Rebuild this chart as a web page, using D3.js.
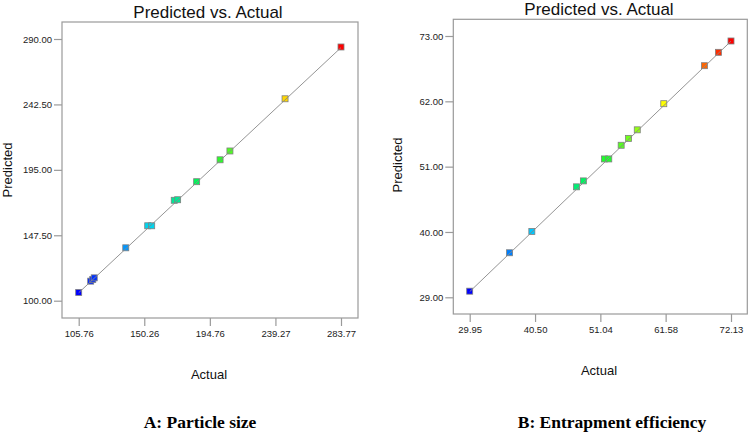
<!DOCTYPE html>
<html>
<head>
<meta charset="utf-8">
<script src="https://cdn.jsdelivr.net/npm/d3@7"></script>
<style>
html,body{margin:0;padding:0;background:#fff;}
svg{display:block;font-family:"Liberation Sans",Arial,sans-serif;}
</style>
</head>
<body>
<svg id="chart" width="750" height="435"></svg>
<script>
// ---- Data ----
const titleText = "Predicted vs. Actual";
const xLabel = "Actual";
const yLabel = "Predicted";

// Chart A: Particle size
const aActual =    [105.76, 113.9, 115.3, 116.3, 137.7, 152.6, 155.3, 170.6, 172.9, 185.8, 201.7, 208.4, 245.8, 283.77];
const aPredicted = [106.0,  114.2, 115.4, 116.6, 138.4, 154.4, 154.4, 172.9, 173.3, 186.4, 202.3, 208.7, 246.6, 284.2];
const aXTicks = [105.76, 150.26, 194.76, 239.27, 283.77];
const aYTicks = [100.00, 147.50, 195.00, 242.50, 290.00];
const aCaption = "A: Particle size";

// Chart B: Entrapment efficiency
const bActual =    [29.95, 36.39, 39.98, 47.2, 48.3, 51.7, 52.4, 54.4, 55.6, 57.0, 61.28, 67.84, 70.1, 72.13];
const bPredicted = [30.03, 36.5,  40.09, 47.6, 48.6, 52.3, 52.3, 54.6, 55.76, 57.2, 61.6, 68.0, 70.25, 72.16];
const bXTicks = [29.95, 40.50, 51.04, 61.58, 72.13];
const bYTicks = [29.00, 40.00, 51.00, 62.00, 73.00];
const bCaption = "B: Entrapment efficiency";

const gradientColors = ["#0000ff", "#00d0ff", "#00ff30", "#ffff00", "#ff0000"];

// ---- Drawing ----
const svg = d3.select("#chart");

function drawPanel(cfg) {
  const g = svg.append("g");
  const x = d3.scaleLinear().domain([cfg.xTicks[0], cfg.xTicks[cfg.xTicks.length-1]]).range([cfg.x0, cfg.x1]);
  const y = d3.scaleLinear().domain([cfg.yTicks[0], cfg.yTicks[cfg.yTicks.length-1]]).range([cfg.y0, cfg.y1]);
  const pMin = d3.min(cfg.pred), pMax = d3.max(cfg.pred);
  const color = d3.scaleLinear()
    .domain(gradientColors.map((c,i)=> pMin + (pMax-pMin)*i/(gradientColors.length-1)))
    .range(gradientColors)
    .interpolate(d3.interpolateRgb);

  // frame
  g.append("rect")
    .attr("x", cfg.fx0).attr("y", cfg.fy0)
    .attr("width", cfg.fx1 - cfg.fx0).attr("height", cfg.fy1 - cfg.fy0)
    .attr("fill", "none").attr("stroke", "#9a9a9a").attr("stroke-width", 1.2);

  // y axis
  const yAxis = d3.axisLeft(y).tickValues(cfg.yTicks).tickFormat(d3.format(".2f")).tickSize(8).tickPadding(2);
  const ya = g.append("g").attr("transform", `translate(${cfg.fx0},0)`).call(yAxis);
  // x axis
  const xAxis = d3.axisBottom(x).tickValues(cfg.xTicks).tickFormat(d3.format(".2f")).tickSize(8).tickPadding(4);
  const xa = g.append("g").attr("transform", `translate(0,${cfg.fy1})`).call(xAxis);
  [ya, xa].forEach(a => {
    a.select(".domain").remove();
    a.selectAll(".tick line").attr("stroke", "#9a9a9a").attr("stroke-width", 1.2);
    a.selectAll(".tick text").attr("fill", "#222").style("font-size", "9.5px")
      .style("font-family", '"Liberation Sans",Arial,sans-serif');
  });

  // points
  const pts = cfg.act.map((a,i)=>({a, p: cfg.pred[i]}));
  const s = 6;
  g.append("g").selectAll("rect").data(pts).join("rect")
    .attr("x", d => x(d.a) - s/2).attr("y", d => y(d.p) - s/2)
    .attr("width", s).attr("height", s)
    .attr("fill", d => color(d.p))
    .attr("stroke", "#808080").attr("stroke-width", 0.8);

  // diagonal line
  const lo = cfg.act[0], hi = cfg.act[cfg.act.length-1];
  g.append("line")
    .attr("x1", x(lo)).attr("y1", y(lo)).attr("x2", x(hi)).attr("y2", y(hi))
    .attr("stroke", "#888").attr("stroke-width", 0.9);

  // title
  g.append("text").attr("x", cfg.titleX).attr("y", cfg.titleY)
    .attr("text-anchor", "middle").attr("font-size", "17px").attr("fill", "#111").text(titleText);
  // axis labels
  g.append("text").attr("x", cfg.xlabX).attr("y", cfg.xlabY)
    .attr("text-anchor", "middle").attr("font-size", "13px").attr("fill", "#111").text(xLabel);
  g.append("text").attr("transform", `translate(${cfg.ylabX},${cfg.ylabY}) rotate(-90)`)
    .attr("text-anchor", "middle").attr("font-size", "13px").attr("fill", "#111").text(yLabel);
  // caption
  g.append("text").attr("x", cfg.capX).attr("y", cfg.capY)
    .attr("text-anchor", "middle").attr("font-size", "17.5px").attr("font-weight", "bold")
    .style("font-family", '"Liberation Serif","Times New Roman",serif').attr("fill", "#000").text(cfg.caption);
}

drawPanel({
  act: aActual, pred: aPredicted, xTicks: aXTicks, yTicks: aYTicks, caption: aCaption,
  x0: 78.7, x1: 341, y0: 300.7, y1: 39,
  fx0: 62, fx1: 358, fy0: 22, fy1: 318,
  titleX: 208, titleY: 18, xlabX: 209, xlabY: 379, ylabX: 12, ylabY: 170,
  capX: 200, capY: 428
});

drawPanel({
  act: bActual, pred: bPredicted, xTicks: bXTicks, yTicks: bYTicks, caption: bCaption,
  x0: 469.7, x1: 731, y0: 297.3, y1: 36,
  fx0: 453.3, fx1: 747.3, fy0: 19.3, fy1: 314,
  titleX: 599, titleY: 15, xlabX: 599, xlabY: 375, ylabX: 402, ylabY: 165,
  capX: 612, capY: 428
});
</script>
</body>
</html>
